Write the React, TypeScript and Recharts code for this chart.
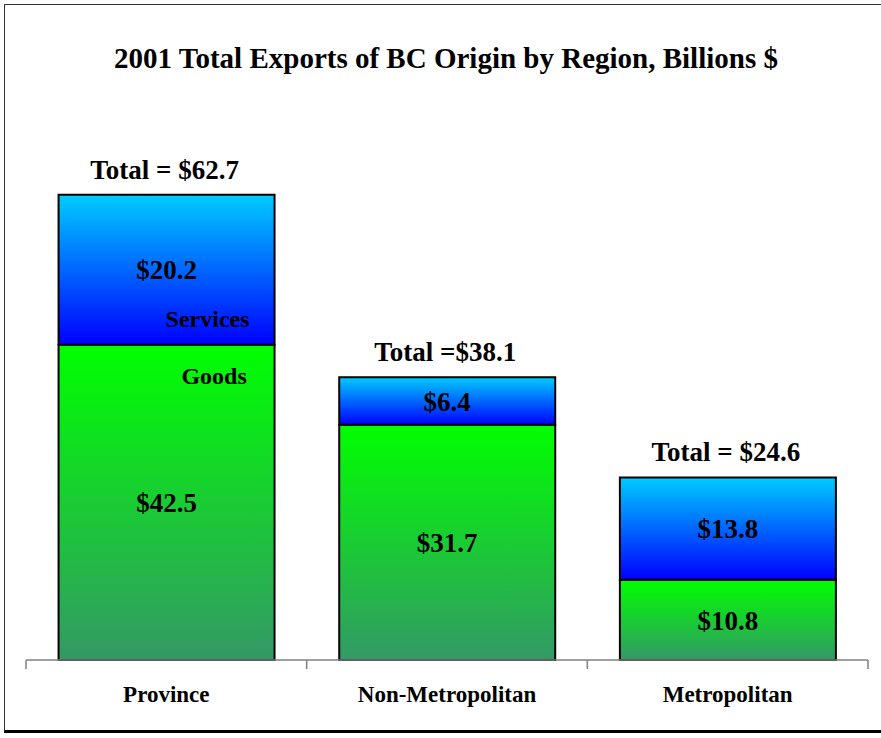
import React from "react";
import { BarChart, Bar, XAxis, YAxis, LabelList } from "recharts";

const categories = ["Province", "Non-Metropolitan", "Metropolitan"];
const goods = [42.5, 31.7, 10.8];
const services = [20.2, 6.4, 13.8];
const totals = [62.7, 38.1, 24.6];
const totalLabels = ["Total = $62.7", "Total =$38.1", "Total = $24.6"];
const goodsLabels = ["$42.5", "$31.7", "$10.8"];
const servicesLabels = ["$20.2", "$6.4", "$13.8"];

const data = categories.map((c, i) => ({
  name: c,
  goods: goods[i],
  services: services[i],
  total: totals[i],
  totalLabel: totalLabels[i],
  goodsLabel: goodsLabels[i],
  servicesLabel: servicesLabels[i],
}));

const FONT = "'Liberation Serif', 'Times New Roman', serif";
const CHART_W = 881;
const M_LEFT = 26;
const M_RIGHT = 13;
const BAND = (CHART_W - M_LEFT - M_RIGHT) / categories.length;

const SeriesNameLabel = (props: any) => {
  const { x, y, width, height, index, name } = props;
  if (index !== 0) return null;
  if (name === "Services") {
    return (
      <text x={x + width * 0.69} y={y + height - 26} textAnchor="middle" dominantBaseline="central"
        fontFamily={FONT} fontWeight="bold" fontSize={24} fill="#000">Services</text>
    );
  }
  return (
    <text x={x + width * 0.72} y={y + 31} textAnchor="middle" dominantBaseline="central"
      fontFamily={FONT} fontWeight="bold" fontSize={24} fill="#000">Goods</text>
  );
};

const TotalLabel = (props: any) => {
  const { x, y, width, value } = props;
  return (
    <text x={x + width / 2 - 2} y={y - 25} textAnchor="middle" dominantBaseline="central"
      fontFamily={FONT} fontWeight="bold" fontSize={27} fill="#000">{value}</text>
  );
};

const CatTick = (props: any) => {
  const { x, y, payload, index } = props;
  const axisY = y - 8;
  const half = BAND / 2;
  return (
    <g>
      <line x1={x - half} y1={axisY} x2={x - half} y2={axisY + 9} stroke="#808080" strokeWidth={1.5} />
      {index === categories.length - 1 && (
        <line x1={x + half} y1={axisY} x2={x + half} y2={axisY + 9} stroke="#808080" strokeWidth={1.5} />
      )}
      <text x={x} y={axisY + 34} textAnchor="middle" dominantBaseline="central"
        fontFamily={FONT} fontWeight="bold" fontSize={23} fill="#000">{payload.value}</text>
    </g>
  );
};

export default function App() {
  return (
    <div style={{ position: "absolute", left: 0, top: 0, width: 881, height: 738, background: "#fff" }}>
      <div style={{
        position: "absolute", left: 4, top: 4, width: 900, height: 729,
        borderLeft: "1.5px solid #333", borderTop: "1.5px solid #333", borderBottom: "3px solid #000",
        boxSizing: "border-box",
      }} />
      <div style={{
        position: "absolute", left: 0, top: 39, width: 892, textAlign: "center",
        fontFamily: FONT, fontWeight: "bold", fontSize: 29, color: "#000", lineHeight: "38px",
      }}>2001 Total Exports of BC Origin by Region, Billions $</div>
      <div style={{ position: "absolute", left: 0, top: 0 }}>
        <BarChart width={CHART_W} height={738} data={data} barCategoryGap="11.6%"
          margin={{ top: 140.6, right: M_RIGHT, left: M_LEFT, bottom: 38 }}>
          <defs>
            <linearGradient id="goodsGrad" x1="0" y1="0" x2="0" y2="1">
              <stop offset="0%" stopColor="#00FF00" />
              <stop offset="100%" stopColor="#339966" />
            </linearGradient>
            <linearGradient id="servGrad" x1="0" y1="0" x2="0" y2="1">
              <stop offset="0%" stopColor="#00CCFF" />
              <stop offset="100%" stopColor="#0000FF" />
            </linearGradient>
          </defs>
          <XAxis dataKey="name" height={40} axisLine={{ stroke: "#808080", strokeWidth: 1.5 }}
            tickLine={false} tick={<CatTick />} interval={0} />
          <YAxis hide domain={[0, 70]} />
          <Bar dataKey="goods" name="Goods" stackId="a" fill="url(#goodsGrad)"
            stroke="#000" strokeWidth={2} isAnimationActive={false}>
            <LabelList dataKey="goodsLabel" position="center" fontFamily={FONT} fontWeight="bold"
              fontSize={27} fill="#000" />
            <LabelList dataKey="goods" content={(p: any) => <SeriesNameLabel {...p} name="Goods" />} />
          </Bar>
          <Bar dataKey="services" name="Services" stackId="a" fill="url(#servGrad)"
            stroke="#000" strokeWidth={2} isAnimationActive={false}>
            <LabelList dataKey="servicesLabel" position="center" fontFamily={FONT} fontWeight="bold"
              fontSize={27} fill="#000" />
            <LabelList dataKey="services" content={(p: any) => <SeriesNameLabel {...p} name="Services" />} />
            <LabelList dataKey="totalLabel" content={TotalLabel} />
          </Bar>
        </BarChart>
      </div>
    </div>
  );
}
